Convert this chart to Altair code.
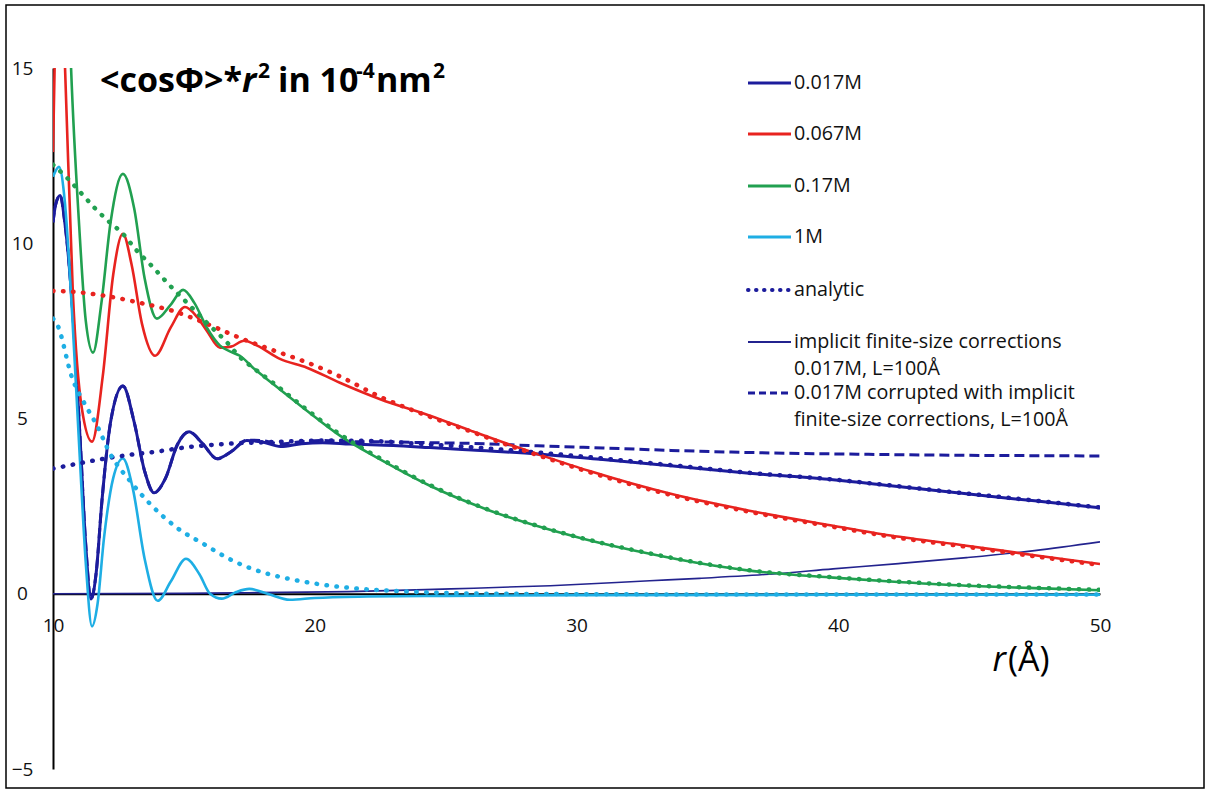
import altair as alt
import pandas as pd

# ---------------- data ----------------
r_017 = [10.0, 10.1, 10.27, 10.45, 10.73, 11.03, 11.25, 11.45, 11.65, 11.87, 12.2, 12.67, 13.1, 13.5,
         13.86, 14.3, 14.75, 15.2, 15.7, 16.27, 16.8, 17.4, 18.0, 18.7, 19.5, 20.3, 21.35, 23.0, 24.4,
         26.0, 28.5, 31.0, 33.6, 36.6, 39.8, 42.0, 44.9, 47.5, 50.0]
v_017 = [10.6, 11.1, 11.36, 10.6, 8.3, 4.5, 1.4, -0.15, 0.6, 2.65, 4.9, 5.93, 4.9, 3.5,
         2.88, 3.3, 4.25, 4.62, 4.3, 3.85, 4.05, 4.37, 4.33, 4.2, 4.28, 4.31, 4.27, 4.23, 4.17,
         4.1, 3.99, 3.83, 3.65, 3.44, 3.25, 3.08, 2.85, 2.65, 2.45]

r_corr = [10.0, 10.1, 10.27, 10.45, 10.73, 11.03, 11.25, 11.45, 11.65, 11.87, 12.2, 12.67, 13.1, 13.5,
          13.86, 14.3, 14.75, 15.2, 15.7, 16.27, 16.8, 17.4, 18.0, 18.7, 19.5, 20.3, 21.35, 23.0, 24.4,
          26.0, 28.5, 31.0, 33.6, 36.6, 39.8, 42.0, 44.9, 47.5, 50.0]
v_corr = [10.6, 11.1, 11.36, 10.6, 8.3, 4.5, 1.4, -0.15, 0.6, 2.65, 4.9, 5.93, 4.9, 3.5,
          2.88, 3.3, 4.25, 4.62, 4.3, 3.85, 4.05, 4.38, 4.37, 4.27, 4.34, 4.37, 4.34, 4.33, 4.31,
          4.29, 4.22, 4.16, 4.09, 4.03, 3.99, 3.97, 3.95, 3.94, 3.93]

r_impl = [10.0, 15.0, 17.5, 21.3, 25.2, 29.0, 32.8, 34.7, 37.2, 39.8, 42.3, 44.9, 47.5, 50.0]
v_impl = [0.0, 0.01, 0.03, 0.06, 0.14, 0.23, 0.37, 0.44, 0.55, 0.71, 0.86, 1.03, 1.23, 1.48]

r_an017 = [10.0, 11.0, 12.0, 13.0, 14.0, 15.0, 16.5, 18.4, 20.3, 22.0, 24.4, 26.0, 28.5, 31.0, 33.6,
           36.6, 39.8, 42.0, 44.9, 47.5, 50.0]
v_an017 = [3.57, 3.72, 3.86, 3.97, 4.06, 4.17, 4.27, 4.33, 4.37, 4.36, 4.26, 4.18, 4.03, 3.86, 3.67,
           3.45, 3.26, 3.09, 2.86, 2.66, 2.46]

r_067 = [10.0, 10.1, 10.25, 10.46, 10.76, 11.1, 11.49, 11.9, 12.3, 12.67, 13.0, 13.4, 13.9, 14.5,
         15.04, 15.5, 15.88, 16.38, 16.8, 17.3, 17.8, 18.67, 19.7, 20.96, 22.5, 24.4, 26.0, 27.35,
         28.5, 30.5, 33.6, 36.6, 39.8, 42.0, 44.9, 47.5, 50.0]
v_067 = [12.6, 16.5, 19.0, 15.0, 8.56, 5.3, 4.34, 6.2, 9.1, 10.27, 9.4, 7.7, 6.79, 7.6,
         8.18, 7.9, 7.5, 7.02, 7.05, 7.22, 7.08, 6.7, 6.45, 6.02, 5.55, 5.08, 4.64, 4.28,
         3.99, 3.5, 2.85, 2.37, 1.94, 1.66, 1.37, 1.1, 0.85]

r_an067 = [10.0, 11.0, 12.0, 13.32, 14.58, 15.88, 17.14, 18.4, 19.7, 20.96, 22.5, 24.4, 26.0, 27.35,
           28.5, 30.5, 33.6, 36.6, 39.8, 42.0, 44.9, 47.5, 50.0]
v_an067 = [8.64, 8.6, 8.5, 8.3, 8.07, 7.7, 7.3, 6.95, 6.6, 6.2, 5.62, 5.05, 4.62, 4.25,
           3.96, 3.47, 2.82, 2.34, 1.91, 1.63, 1.34, 1.07, 0.82]

r_17 = [10.0, 10.4, 10.69, 11.0, 11.25, 11.53, 11.85, 12.2, 12.67, 13.1, 13.5, 13.97, 14.5, 14.97,
        15.4, 15.88, 16.38, 16.8, 17.14, 17.64, 18.4, 19.7, 20.96, 22.6, 24.4, 26.7, 28.5, 30.25,
        32.8, 34.7, 36.6, 39.8, 42.0, 44.9, 47.5, 50.0]
v_17 = [40.0, 22.0, 15.0, 10.5, 7.8, 6.88, 8.3, 10.6, 11.98, 11.0, 9.0, 7.85, 8.25, 8.67,
        8.3, 7.59, 7.08, 6.9, 6.79, 6.45, 5.99, 5.22, 4.51, 3.79, 3.08, 2.37, 1.93, 1.57,
        1.14, 0.87, 0.66, 0.46, 0.35, 0.23, 0.16, 0.1]

r_an17 = [10.0, 10.57, 11.1, 11.6, 12.1, 12.67, 13.2, 13.7, 14.47, 15.23, 15.99, 16.65, 17.14, 17.64,
          18.4, 19.7, 20.96, 22.6, 24.4, 26.7, 28.5, 30.25, 32.8, 34.7, 36.6, 39.8, 42.0, 44.9,
          47.5, 50.0]
v_an17 = [12.24, 11.84, 11.41, 11.0, 10.64, 10.27, 9.79, 9.41, 8.79, 8.22, 7.65, 7.17, 6.75, 6.45,
          6.02, 5.25, 4.55, 3.82, 3.1, 2.38, 1.94, 1.58, 1.15, 0.88, 0.67, 0.47, 0.36, 0.24,
          0.17, 0.11]

r_1 = [10.0, 10.23, 10.45, 10.73, 11.03, 11.25, 11.49, 11.7, 11.95, 12.3, 12.67, 13.05, 13.5, 14.0,
       14.5, 15.08, 15.6, 16.0, 16.45, 17.0, 17.5, 18.2, 19.05, 20.0, 22.0, 25.0, 30.0, 40.0, 50.0]
v_1 = [11.9, 12.18, 11.2, 8.0, 3.8, 0.9, -0.93, -0.3, 1.6, 3.3, 3.86, 3.0, 1.0, -0.2,
       0.35, 1.0, 0.55, 0.0, -0.14, 0.05, 0.14, 0.0, -0.17, -0.12, -0.08, -0.06, -0.04, -0.03, -0.03]

r_an1 = [10.0, 10.15, 10.73, 11.3, 11.68, 12.18, 12.94, 13.7, 14.74, 15.73, 16.88, 17.5, 18.2, 18.8,
         20.1, 21.3, 23.9, 27.0, 35.0, 50.0]
v_an1 = [7.85, 7.7, 6.16, 5.3, 4.8, 4.0, 3.22, 2.57, 1.88, 1.43, 0.94, 0.74, 0.57, 0.46,
         0.28, 0.17, 0.05, 0.0, -0.02, -0.02]

x_ticks = [10, 20, 30, 40, 50]
y_ticks = [-5, 0, 5, 10, 15]

legend_labels = [["0.017M"], ["0.067M"], ["0.17M"], ["1M"], ["analytic"],
                 ["implicit finite-size corrections", "0.017M, L=100Å"],
                 ["0.017M corrupted with implicit", "finite-size corrections, L=100Å"]]

# ---------------- styling ----------------
NAVY = "#1c1c9c"
NAVY_THIN = "#23238e"
RED = "#e8231f"
GREEN = "#21a050"
CYAN = "#1eaee4"
FONT = "Open Sans"
TFONT = "Open Sans"

W, H = 1047, 701
LEFT, TOP = 53, 68

xs = alt.Scale(domain=[10, 50], nice=False, zero=False)
ys = alt.Scale(domain=[-5, 15], nice=False, zero=False)

x_axis = alt.Axis(values=x_ticks, title=None, grid=False, ticks=False, tickSize=0,
                  domainColor="black", domainWidth=2, offset=-(H * 5 / 20),
                  labelFont=FONT, labelFontSize=19, labelColor="#111111",
                  labelPadding=32, labelBaseline="middle", labelAlign="center")
y_axis = alt.Axis(values=y_ticks, title=None, grid=False, ticks=False, tickSize=0,
                  domainColor="black", domainWidth=2,
                  labelFont=FONT, labelFontSize=19, labelColor="#111111",
                  labelPadding=31, labelAlign="center", labelBaseline="middle")

DOT = dict(strokeDash=[0.5, 9.5], strokeCap="round")


def series(r, v, color, width, **kw):
    df = pd.DataFrame({"r": r, "v": v})
    return alt.Chart(df).mark_line(color=color, strokeWidth=width, clip=True,
                                   interpolate="monotone", **kw).encode(
        x=alt.X("r:Q", scale=xs, axis=x_axis),
        y=alt.Y("v:Q", scale=ys, axis=y_axis),
    )


blank = alt.Data(values=[{}])


def px_text(text, px, py, size, weight="normal", style="normal", align="left",
            baseline="alphabetic", font=FONT, color="#111111"):
    return alt.Chart(blank).mark_text(
        text=text, font=font, fontSize=size, fontWeight=weight, fontStyle=style,
        align=align, baseline=baseline, color=color,
    ).encode(x=alt.value(px - LEFT), y=alt.value(py - TOP))


def px_rule(x1, x2, py, color, width, dash=None, cap="butt"):
    kw = dict(color=color, strokeWidth=width, strokeCap=cap)
    if dash is not None:
        kw["strokeDash"] = dash
    return alt.Chart(blank).mark_rule(**kw).encode(
        x=alt.value(x1 - LEFT), x2=alt.value(x2 - LEFT), y=alt.value(py - TOP))


layers = [
    series(r_impl, v_impl, NAVY_THIN, 1.6),
    series(r_corr, v_corr, NAVY, 3, strokeDash=[10, 5]),
    series(r_017, v_017, NAVY, 3),
    series(r_067, v_067, RED, 2.6),
    series(r_17, v_17, GREEN, 2.6),
    series(r_1, v_1, CYAN, 2.6),
    series(r_an017, v_an017, NAVY, 4.5, **DOT),
    series(r_an067, v_an067, RED, 4.5, **DOT),
    series(r_an17, v_an17, GREEN, 4.5, **DOT),
    series(r_an1, v_an1, CYAN, 4.5, **DOT),
]

# outer frame
layers.append(
    alt.Chart(blank).mark_rect(fill=None, stroke="black", strokeWidth=1.5).encode(
        x=alt.value(6 - LEFT), x2=alt.value(1204 - LEFT),
        y=alt.value(5 - TOP), y2=alt.value(788 - TOP))
)

# legend (custom)
row_y = [83, 134, 186, 237, 290, 342, 393]
styles = [
    dict(color=NAVY, width=3),
    dict(color=RED, width=3),
    dict(color=GREEN, width=3),
    dict(color=CYAN, width=3),
    dict(color=NAVY, width=4, dash=[0.5, 7.5], cap="round"),
    dict(color=NAVY_THIN, width=1.8),
    dict(color=NAVY, width=3, dash=[7, 4]),
]
for i, lab in enumerate(legend_labels):
    st = styles[i]
    layers.append(px_rule(748, 791, row_y[i], st["color"], st["width"],
                          st.get("dash"), st.get("cap", "butt")))
    for j, line in enumerate(lab):
        layers.append(px_text(line, 794, row_y[i] + 26.5 * j, 19.7, baseline="middle"))

# title annotation  <cosΦ>*r² in 10⁻⁴nm²
TB = 92
TS, SS = 34, 21
layers += [
    px_text("<cosΦ>*", 100, TB, TS, weight="bold", font=TFONT, color="black"),
    px_text("r", 242, TB, TS, weight="bold", style="italic", font=TFONT, color="black"),
    px_text("2", 258, TB - 14, SS, weight="bold", font=TFONT, color="black"),
    px_text("in 10", 278, TB, TS, weight="bold", font=TFONT, color="black"),
    px_text("-4", 356, TB - 14, SS, weight="bold", font=TFONT, color="black"),
    px_text("nm", 376, TB, TS, weight="bold", font=TFONT, color="black"),
    px_text("2", 433, TB - 14, SS, weight="bold", font=TFONT, color="black"),
]

# x axis title  r(Å)
layers += [
    px_text("r", 1006, 671, 34, style="italic", align="right", color="black"),
    px_text("(Å)", 1008, 671, 34, color="black"),
]

chart = alt.layer(*layers).properties(
    width=W, height=H,
    padding={"left": LEFT, "top": TOP, "right": 1206 - LEFT - W, "bottom": 789 - TOP - H},
    autosize=alt.AutoSizeParams(type="none"),
    background="white",
).configure_view(stroke=None)

chart.save("out.html", embed_options={"renderer": "svg", "actions": False})
